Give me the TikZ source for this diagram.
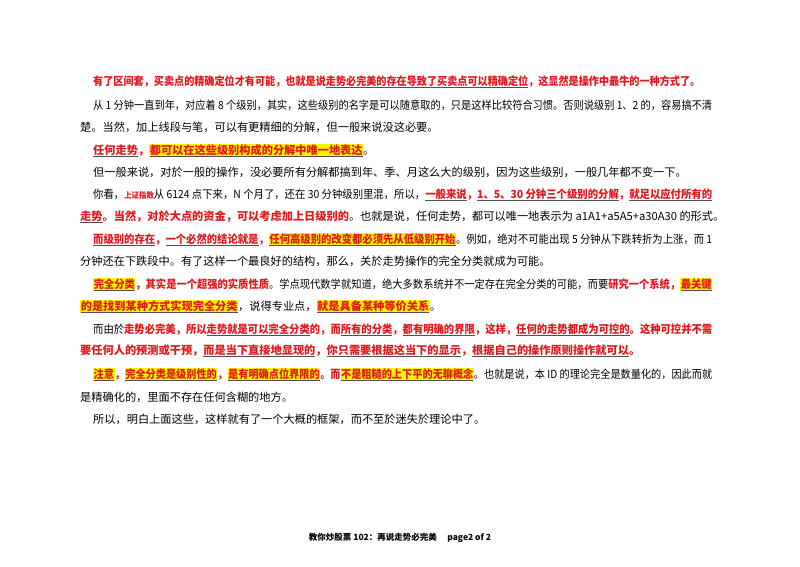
\documentclass[tikz,border=0pt]{standalone}
\usepackage{fontspec}
\setmainfont{Noto Sans CJK SC}
\definecolor{myred}{HTML}{E0191E}
\definecolor{ulc}{HTML}{505050}
\definecolor{hly}{HTML}{FFF200}
\newcommand\RR[1]{{\color{myred}\bfseries #1}}
\newcommand\ulx[1]{\setbox0\hbox{#1}\rlap{\textcolor{ulc}{\rule[-2.6pt]{\wd0}{0.8pt}}}\box0}
\newcommand\HL[1]{{\setlength{\fboxsep}{0.6pt}\colorbox{hly}{#1}}}
\tikzset{ln/.style={anchor=base west,inner sep=0,font=\fontsize{11.2}{12}\selectfont}}
\begin{document}
\begin{tikzpicture}[x=1pt,y=-1pt]
\useasboundingbox[fill=white] (0,0) rectangle (800,566);
\node[ln] (l1) at (93,85) {\resizebox{607pt}{\height}{\RR{有了区间套，买卖点的精确定位才有可能，也就是说\ulx{走势必完美的存在导致了买卖点可以精确定位}，这显然是操作中最牛的一种方式了。}}};
\node[ln] (l2) at (93,109) {\resizebox{619pt}{\height}{从 1 分钟一直到年，对应着 8 个级别，其实，这些级别的名字是可以随意取的，只是这样比较符合习惯。否则说级别 1、2 的，容易搞不清}};
\node[ln] (l3) at (80,131) {楚。当然，加上线段与笔，可以有更精细的分解，但一般来说没这必要。};
\node[ln] (l4) at (93,154) {\RR{\ulx{任何走势}，\HL{\ulx{都可以在这些级别构成的分解中唯一地表达}}}。};
\node[ln] (l5) at (93,176) {但一般来说，对於一般的操作，没必要所有分解都搞到年、季、月这么大的级别，因为这些级别，一般几年都不变一下。};
\node[ln] (l6) at (93,198) {\resizebox{619pt}{\height}{你看，\RR{\fontsize{8}{9}\selectfont 上证指数}从 6124 点下来，N 个月了，还在 30 分钟级别里混，所以，\RR{\ulx{一般来说}，\ulx{1、5、30 分钟三个级别的分解}，\ulx{就足以应付所有的}}}};
\node[ln] (l7) at (80,220) {\RR{\ulx{走势}。当然，对於大点的资金，可以考虑加上日级别的}。也就是说，任何走势，都可以唯一地表示为 a1A1+a5A5+a30A30 的形式。};
\node[ln] (l8) at (93,243) {\resizebox{619pt}{\height}{\RR{\ulx{而级别的存在}，\ulx{一个必然的结论就是}，\HL{\ulx{任何高级别的改变都必须先从低级别开始}}}。例如，绝对不可能出现 5 分钟从下跌转折为上涨，而 1}};
\node[ln] (l9) at (80,265) {分钟还在下跌段中。有了这样一个最良好的结构，那么，关於走势操作的完全分类就成为可能。};
\node[ln] (l10) at (93,288) {\resizebox{619pt}{\height}{\RR{\HL{\ulx{完全分类}}，其实是一个超强的实质性质}。学点现代数学就知道，绝大多数系统并不一定存在完全分类的可能，而要\RR{研究一个系统，\HL{\ulx{最关键}}}}};
\node[ln] (l11) at (80,310) {\RR{\HL{\ulx{的是找到某种方式实现完全分类}}}，说得专业点，\RR{\HL{\ulx{就是具备某种等价关系}}}。};
\node[ln] (l12) at (93,333) {\resizebox{619pt}{\height}{而由於\RR{走势必完美，所以\ulx{走势就是可以完全分类}的，而\ulx{所有的分类}，\ulx{都有明确的界限}，这样，\ulx{任何的走势都成为可控的}。这种可控并不需}}};
\node[ln] (l13) at (80,354) {\RR{要任何人的预测或干预，\ulx{而是当下直接地显现的}，\ulx{你只需要根据这当下的显示}，\ulx{根据自己的操作原则操作就可以}。}};
\node[ln] (l14) at (93,378) {\resizebox{619pt}{\height}{\RR{\HL{\ulx{注意}}，\HL{\ulx{完全分类是级别性的}}，\HL{\ulx{是有明确点位界限的}}。而\HL{\ulx{不是粗糙的上下平的无聊概念}}}。也就是说，本 ID 的理论完全是数量化的，因此而就}};
\node[ln] (l15) at (80,401) {是精确化的，里面不存在任何含糊的地方。};
\node[ln] (l16) at (93,423) {所以，明白上面这些，这样就有了一个大概的框架，而不至於迷失於理论中了。};
\node[anchor=base,inner sep=0,font=\fontsize{8.5}{10}\selectfont\bfseries] (ft) at (400,540) {教你炒股票 102：再说走势必完美\quad\ page2 of 2};
\end{tikzpicture}
\end{document}
